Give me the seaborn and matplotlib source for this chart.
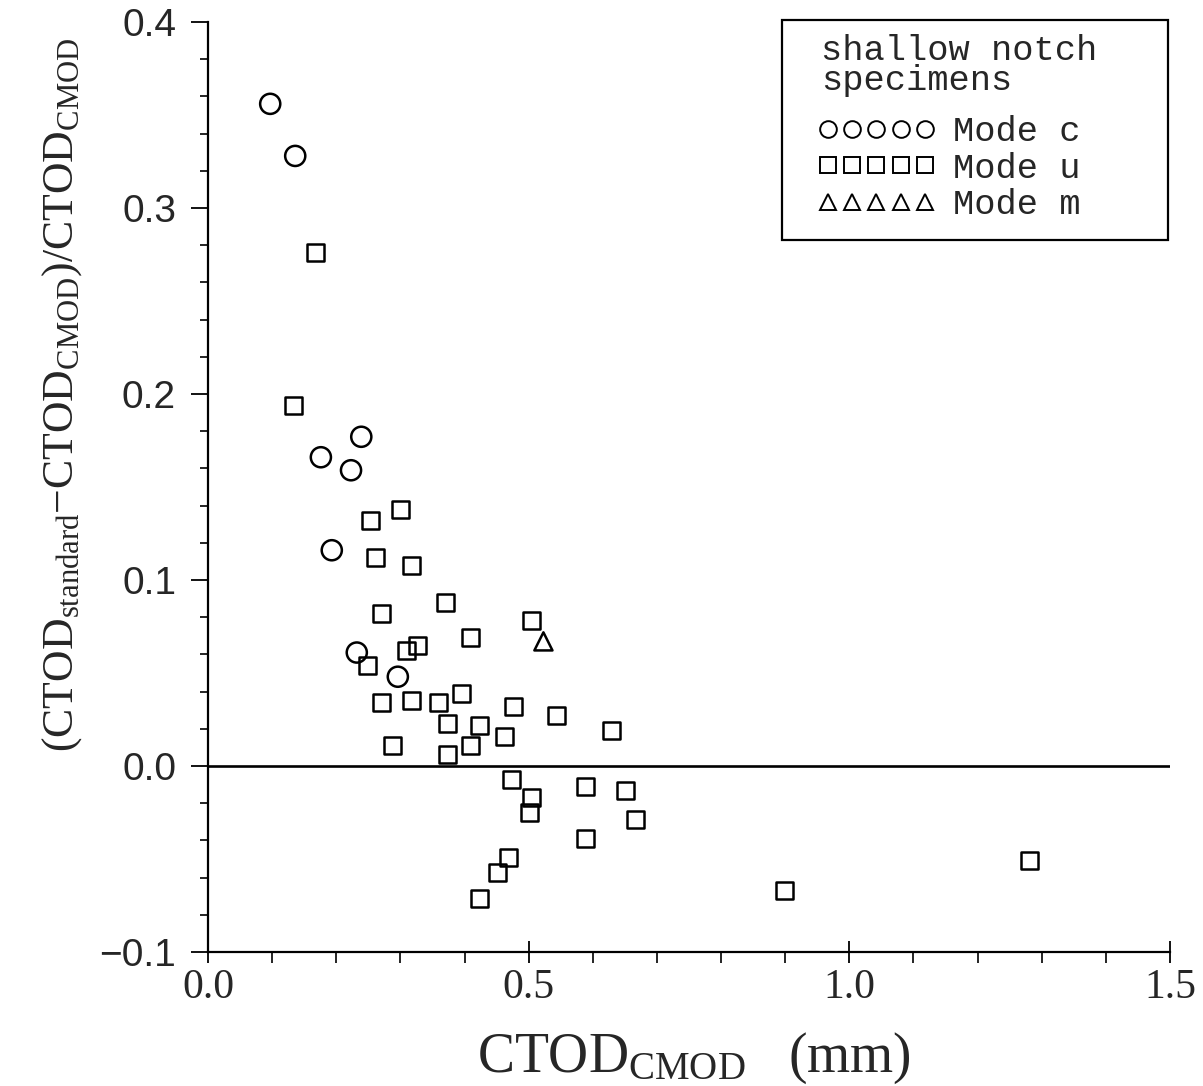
import numpy as np
import pandas as pd
import matplotlib
matplotlib.use("Agg")
import matplotlib.pyplot as plt
from matplotlib.lines import Line2D
from matplotlib.patches import Rectangle
from matplotlib.ticker import MultipleLocator
import seaborn as sns

# Mode c (circles)
c_x = [0.097, 0.136, 0.176, 0.193, 0.223, 0.239, 0.232, 0.296]
c_y = [0.356, 0.328, 0.166, 0.116, 0.159, 0.177, 0.061, 0.048]
# Mode u (squares)
u_x = [0.167, 0.134, 0.253, 0.300, 0.261, 0.318, 0.271, 0.370, 0.410, 0.504,
       0.248, 0.310, 0.327, 0.270, 0.318, 0.360, 0.395, 0.374, 0.423, 0.409,
       0.476, 0.462, 0.543, 0.629, 0.287, 0.374, 0.473, 0.504, 0.502, 0.588,
       0.651, 0.666, 0.588, 0.468, 0.452, 0.423, 0.899, 1.281]
u_y = [0.276, 0.194, 0.132, 0.138, 0.112, 0.108, 0.082, 0.088, 0.069, 0.078,
       0.054, 0.062, 0.065, 0.034, 0.035, 0.034, 0.039, 0.023, 0.022, 0.011,
       0.032, 0.016, 0.027, 0.019, 0.011, 0.006, -0.007, -0.017, -0.025, -0.011,
       -0.013, -0.029, -0.039, -0.049, -0.057, -0.071, -0.067, -0.051]
# Mode m (triangle)
m_x = [0.523]
m_y = [0.067]

legend_title = "shallow notch\nspecimens"
mode_labels = ["Mode c", "Mode u", "Mode m"]
x_ticks = [0.0, 0.5, 1.0, 1.5]
x_ticklabels = ["0.0", "0.5", "1.0", "1.5"]
y_ticks = [-0.1, 0.0, 0.1, 0.2, 0.3, 0.4]
y_ticklabels = ["\u22120.1", "0.0", "0.1", "0.2", "0.3", "0.4"]

sns.set_style("white")
plt.rcParams['mathtext.fontset'] = 'custom'
plt.rcParams['mathtext.rm'] = 'Liberation Serif'
plt.rcParams['mathtext.it'] = 'Liberation Serif:italic'
plt.rcParams['font.family'] = ['Liberation Serif', 'DejaVu Serif']

W, H = 1203, 1086
fig = plt.figure(figsize=(W/100, H/100), dpi=100)
AX_L, AX_R, AX_T, AX_B = 208, 1170, 22, 952
ax = fig.add_axes([AX_L/W, 1 - AX_B/H, (AX_R-AX_L)/W, (AX_B-AX_T)/H])

def ax_x(px):
    return (px - AX_L) / (AX_R - AX_L)

def ax_y(py):
    return (AX_B - py) / (AX_B - AX_T)

mk = dict(facecolor='none', edgecolor='black', linewidth=1.8, legend=False, ax=ax, zorder=3)
sns.scatterplot(x=c_x, y=c_y, marker='o', s=210, **mk)
sns.scatterplot(x=u_x, y=u_y, marker='s', s=150, **mk)
sns.scatterplot(x=m_x, y=m_y, marker='^', s=170, **mk)

ax.axhline(0, color='black', lw=1.9, zorder=2)

ax.set_xlim(0, 1.5)
ax.set_ylim(-0.1, 0.4)
ax.set_xticks(x_ticks)
ax.set_xticklabels(x_ticklabels, fontsize=30, family='Liberation Serif')
ax.set_yticks(y_ticks)
ax.set_yticklabels(y_ticklabels, fontsize=28, family='Liberation Sans')
ax.xaxis.set_minor_locator(MultipleLocator(0.1))
ax.yaxis.set_minor_locator(MultipleLocator(0.02))
ax.tick_params(which='both', left=True, bottom=True, color='black')
ax.tick_params(axis='x', which='major', direction='inout', length=16, width=1.3, pad=4)
ax.tick_params(axis='x', which='minor', direction='out', length=8, width=1.2)
ax.tick_params(axis='y', which='major', direction='out', length=12, width=1.3, pad=11)
ax.tick_params(axis='y', which='minor', direction='out', length=6, width=1.2)

for s in ['top', 'right']:
    ax.spines[s].set_visible(False)
for s in ['left', 'bottom']:
    ax.spines[s].set_color('black')
    ax.spines[s].set_linewidth(1.6)

ax.set_xlabel(r'CTOD$_{\mathrm{CMOD}}$   (mm)', fontsize=40, va='top')
ax.xaxis.set_label_coords(0.505, ax_y(1031))
ax.set_ylabel(r'(CTOD$_{\mathrm{standard}}$$-$CTOD$_{\mathrm{CMOD}}$)/CTOD$_{\mathrm{CMOD}}$',
              fontsize=31.5)
ax.yaxis.set_label_coords(ax_x(84), ax_y(395))

# legend frame
ax.add_patch(Rectangle((ax_x(782), ax_y(240)), ax_x(1168) - ax_x(782), ax_y(20) - ax_y(240),
                       transform=ax.transAxes, fill=False, edgecolor='black', lw=1.6,
                       clip_on=False, zorder=4))
ax.text(ax_x(821), ax_y(34), legend_title, transform=ax.transAxes, ha='left', va='top',
        family='Liberation Mono', fontsize=25.5, linespacing=0.88)

handles = [Line2D([], [], ls='none', marker=mkr, ms=ms, mfc='none', mec='black', mew=1.4)
           for mkr, ms in [('o', 12), ('s', 11.5), ('^', 11.5)]]
leg = ax.legend(handles, mode_labels, loc='upper left',
                bbox_to_anchor=(ax_x(817), ax_y(115)), borderaxespad=0, borderpad=0,
                numpoints=5, handlelength=3.35, handletextpad=0.5, labelspacing=0.1,
                frameon=False,
                prop={'family': 'Liberation Mono', 'size': 25.5})

fig.savefig('out.png', dpi=100)
